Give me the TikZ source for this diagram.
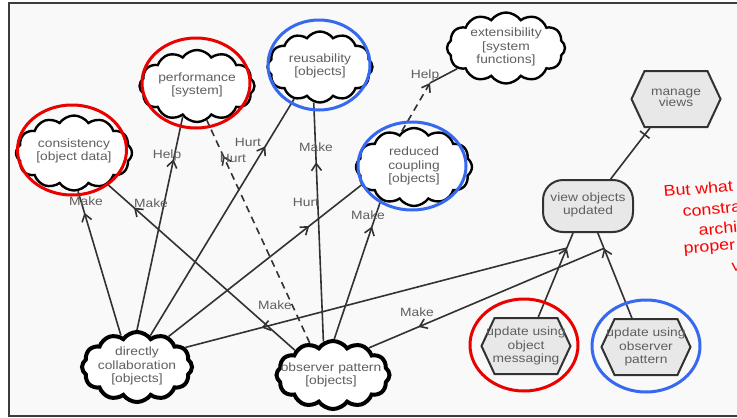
\documentclass[tikz,border=0pt]{standalone}
\usepackage{fontspec}
\setmainfont{Liberation Sans}
\newfontfamily\diafont[FakeStretch=1.15]{Liberation Sans}
\usetikzlibrary{shapes.symbols,shapes.misc,decorations.markings,arrows.meta}
\definecolor{bg}{RGB}{249,249,249}
\definecolor{framecol}{RGB}{60,60,60}
\definecolor{txt}{RGB}{95,95,95}
\definecolor{edgecol}{RGB}{50,50,50}
\definecolor{ringred}{RGB}{235,0,0}
\definecolor{ringblue}{RGB}{55,105,240}
\definecolor{hexfill}{RGB}{232,232,232}
\definecolor{notecol}{RGB}{255,0,0}
\begin{document}
\begin{tikzpicture}[x=1pt,y=-1pt,
  softgoal/.style={cloud, cloud puffs=12, cloud puff arc=110, cloud ignores aspect, draw=black, line width=2.4pt, fill=white, inner sep=0pt},
  boldgoal/.style={softgoal, line width=4pt},
  ctext/.style={font=\diafont\fontsize{12}{13.5}\selectfont, text=txt, align=center, inner sep=0pt},
  lab/.style={font=\diafont\fontsize{12}{13.5}\selectfont, text=txt, inner sep=0pt},
  task/.style={signal, signal to=east and west, signal pointer angle=130, draw=edgecol, line width=2pt, fill=hexfill, inner sep=0pt, minimum width=89pt, minimum height=56pt},
  goalbox/.style={rectangle, rounded corners=20pt, draw=edgecol, line width=2pt, fill=hexfill, minimum width=90pt, minimum height=52pt, inner sep=0pt},
  link/.style={draw=edgecol, line width=1.6pt},
  barb/.tip={Straight Barb[length=7pt,width=10pt,line width=1.6pt]},
  arrowat/.style={postaction={decorate, decoration={markings, mark=at position #1 with {\arrow{barb}}}}},
  barat/.style={postaction={decorate, decoration={markings, mark=at position #1 with {\draw[line width=1.6pt] (0,-6pt) -- (0,6pt);}}}},
  ring/.style={line width=3pt},
  dashes/.style={dash pattern=on 7pt off 5pt},
  notetext/.style={font=\diafont\fontsize{15.5}{19}\selectfont, text=notecol, inner sep=0pt, rotate=5, anchor=base west}
]
\useasboundingbox (0,0) rectangle (737,418);
\clip (0,0) rectangle (737,418);
\fill[white] (0,0) rectangle (737,418);
\draw[line width=1.5pt, draw=framecol, fill=bg] (9,3) rectangle (760,416);

% softgoals
\node[softgoal, minimum width=116pt, minimum height=75pt] (cons) at (74,153) {};
\node[softgoal, minimum width=115pt, minimum height=72pt] (perf) at (197,86) {};
\node[softgoal, minimum width=105pt, minimum height=71pt] (reus) at (320,67) {};
\node[softgoal, minimum width=118pt, minimum height=71pt] (ext) at (506,48) {};
\node[softgoal, minimum width=116pt, minimum height=78pt] (rc) at (414,167) {};
\node[boldgoal, minimum width=110pt, minimum height=70pt] (dc) at (137,367) {};
\node[boldgoal, minimum width=113pt, minimum height=68pt] (op) at (333,375) {};
% goal and tasks
\node[goalbox] (vou) at (588,206) {};
\node[task] (mv) at (676,99) {};
\node[task] (msg) at (526,346) {};
\node[task] (obs) at (646,347) {};

% texts
\node[ctext] (consT) at (74,151) {consistency\\{}[object data]};
\node[ctext] (perfT) at (197,85) {performance\\{}[system]};
\node[ctext] (reusT) at (320,66) {reusability\\{}[objects]};
\node[ctext] (extT) at (506,47) {extensibility\\{}[system\\functions]};
\node[ctext] (rcT) at (414,166) {reduced\\coupling\\{}[objects]};
\node[ctext] (dcT) at (137,366) {directly\\collaboration\\{}[objects]};
\node[ctext] (opT) at (331,375) {observer pattern\\{}[objects]};
\node[ctext] (vouT) at (588,205) {view objects\\updated};
\node[ctext, font=\diafont\fontsize{12}{11.5}\selectfont] (mvT) at (676,98) {manage\\views};
\node[ctext] (msgT) at (526,346) {update using\\object\\messaging};
\node[ctext] (obsT) at (646,347) {update using\\observer\\pattern};

% connectors
\draw[link, arrowat=0.85] (dc.117) -- (cons.-84);
\draw[link, arrowat=0.86] (op.147) -- (cons.-43);
\draw[link, arrowat=0.80] (dc.90) -- (perf.-115);
\draw[link, arrowat=0.80] (dc.67) -- (reus.-129);
\draw[link, dashes, arrowat=0.84] (op.126) -- (perf.-74);
\draw[link, arrowat=0.73] (dc.44) -- (rc.-161);
\draw[link, arrowat=0.75] (op.106) -- (reus.-100);
\draw[link, arrowat=0.81] (op.88) -- (rc.-135);
\coordinate (helpend) at (430,83);
\draw[link, dashes, -barb] (rc.109) -- (helpend);
\draw[link] (helpend) -- (ext.-157);
\draw[link, arrowat=0.82] (msg.67) -- coordinate[pos=0.82] (m1) (vou.-119);
\draw[link, arrowat=0.82] (obs.116) -- coordinate[pos=0.82] (m2) (vou.-70);
\draw[link, arrowat=0.80] (m1) -- (dc.22);
\draw[link, arrowat=0.79] (m2) -- (op.37);
\draw[link, barat=0.87] (vou.50) -- (mv.-132);

% link labels
\node[lab] (l1) at (86,201) {Make};
\node[lab] (l2) at (151,203) {Make};
\node[lab] (l3) at (167,155) {Help};
\node[lab] (l4) at (248,142) {Hurt};
\node[lab] (l5) at (233,158) {Hurt};
\node[lab] (l6) at (306,202) {Hurt};
\node[lab] (l7) at (316,147) {Make};
\node[lab] (l8) at (368,215) {Make};
\node[lab] (l9) at (425,75) {Help};
\node[lab] (l10) at (275,305) {Make};
\node[lab] (l11) at (417,312) {Make};

% highlight rings
\draw[ring, ringred] (72,150) ellipse [x radius=54.5, y radius=45];
\draw[ring, ringred] (196,83) ellipse [x radius=54, y radius=45];
\draw[ring, ringblue] (319,65) ellipse [x radius=51, y radius=45];
\draw[ring, ringblue] (412,166) ellipse [x radius=54, y radius=44];
\draw[ring, ringred] (524,345) ellipse [x radius=54, y radius=46];
\draw[ring, ringblue] (646,346) ellipse [x radius=54, y radius=46];

% note
\node[notetext] (n1) at (664,197) {But what};
\node[notetext] (n2) at (683,217) {constra};
\node[notetext] (n3) at (699,236) {archi};
\node[notetext] (n4) at (684,254) {proper};
\node[notetext] (n5) at (732,272) {v};
\end{tikzpicture}
\end{document}
